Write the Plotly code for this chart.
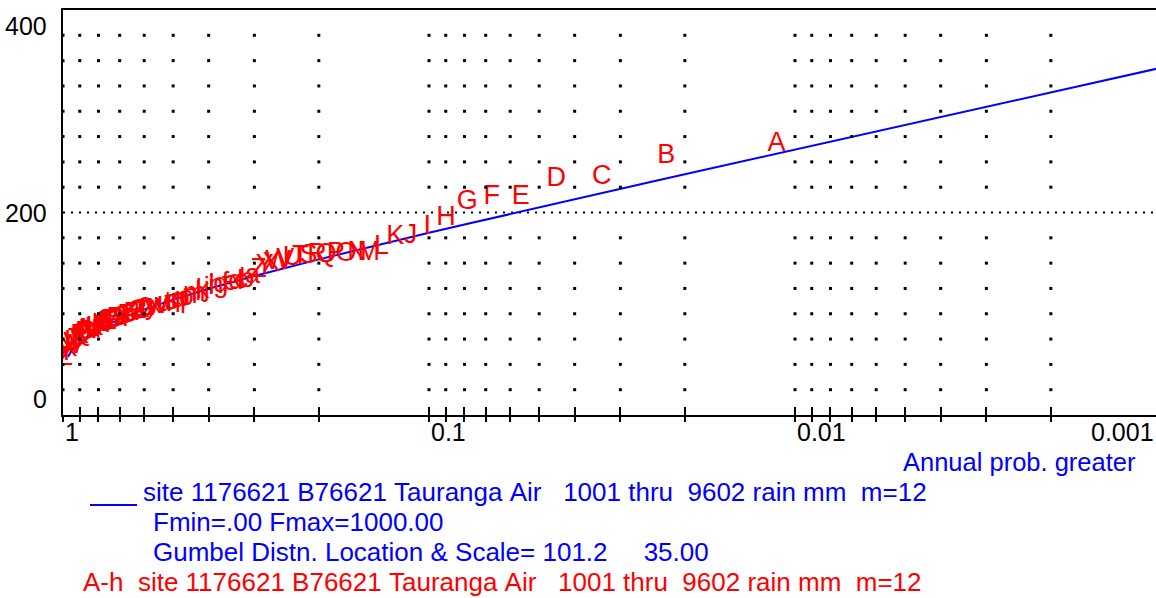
import math
import plotly.graph_objects as go

# ---- Gumbel fit (location 101.2, scale 35.00): exceedance probability vs rainfall
fit_prob = [0.97, 0.95, 0.9, 0.85, 0.8, 0.7, 0.6, 0.5, 0.4, 0.3, 0.2, 0.15, 0.1,
            0.08, 0.06, 0.05, 0.04, 0.03, 0.025, 0.02, 0.015, 0.01, 0.008, 0.006,
            0.005, 0.004, 0.003, 0.002, 0.0015, 0.00103]
fit_rain = [57.3, 62.8, 72.0, 78.8, 84.5, 94.7, 104.3, 114.0, 124.7, 137.3, 153.7,
            164.8, 180.0, 188.1, 198.6, 205.2, 213.1, 223.4, 229.9, 237.8, 247.9,
            262.2, 270.1, 280.1, 286.6, 294.4, 304.5, 318.7, 328.8, 341.9]

# ---- Ranked annual maxima (largest first) and the character that marks each one
obs_labels = list("ABCDEFGHIJKLMNOPQRSTUVWXYZ"
                  "abcdefghijklmnopqrstuvwxyz"
                  "0123456789"
                  "ABCDEFGHIJKLMNOPQRSTUVWXYZ")
obs_rain = [267, 256, 235, 232.5, 215.5, 215, 210.5, 194, 185.5, 176.5,
            176, 166, 160, 159.5, 159, 158.5, 158, 157.5, 157, 156,
            154.5, 153, 151, 149, 147, 143, 137, 133, 132, 131,
            130, 129, 128, 127, 126, 124, 122, 120, 119, 117,
            115, 114, 113, 112, 111, 110, 109, 108, 107.5, 107,
            106, 105, 104, 103, 102, 101, 100.5, 100, 99, 98,
            97, 96, 95, 94.5, 94, 93, 92, 91, 90, 89,
            88, 87, 86, 85, 84, 83, 82, 81, 79.5, 78,
            76, 74, 72, 70, 68, 65, 61, 56]
n_obs = len(obs_rain)
# Weibull plotting position rank/(n+1)
obs_prob = [(k + 1) / (n_obs + 1) for k in range(n_obs)]

# ---- Axis furniture
grid_prob = [1, 0.9, 0.8, 0.7, 0.6, 0.5, 0.4, 0.3, 0.2,
             0.1, 0.09, 0.08, 0.07, 0.06, 0.05, 0.04, 0.03, 0.02,
             0.01, 0.009, 0.008, 0.007, 0.006, 0.005, 0.004, 0.003, 0.002]
grid_rain = [25, 50, 75, 100, 125, 150, 175, 225, 250, 275, 300, 325, 350, 375]
x_tick_labels = ["1", "0.1", "0.01"]
x_tick_pos = [1, 0.1, 0.01]
y_tick_labels = ["400", "200", "0"]

P_MIN = 0.001032
BLUE = "#0000FF"
RED = "#FF0000"
FONT = "Liberation Sans, Arial, sans-serif"

W, H = 1156, 598
ML, MT, MB, MR = 63, 10, 183, 0
PW, PH = W - ML - MR, H - MT - MB


def px_x(px):
    return (px - ML) / PW


def px_y(py):
    return (H - MB - py) / PH


fig = go.Figure()

# dotted grid: dots where the probability lines meet the 25 mm rows
gx, gy = [], []
for p in grid_prob:
    for r in grid_rain:
        gx.append(p)
        gy.append(r)
fig.add_trace(go.Scatter(x=gx, y=gy, mode="markers", xaxis="x2", yaxis="y",
                         marker=dict(symbol="square", size=3, color="black"),
                         hoverinfo="skip", showlegend=False))

# dotted 200 mm reference line
fig.add_trace(go.Scatter(x=[1, P_MIN], y=[200, 200], mode="lines",
                         line=dict(color="black", width=2, dash="2px,6px"),
                         hoverinfo="skip", showlegend=False))

# fitted Gumbel curve
fig.add_trace(go.Scatter(x=fit_prob, y=fit_rain, mode="lines",
                         line=dict(color=BLUE, width=2),
                         showlegend=False))

# observed maxima drawn as characters
fig.add_trace(go.Scatter(x=obs_prob, y=obs_rain, mode="text", text=obs_labels,
                         textposition="middle center",
                         textfont=dict(family=FONT, size=27, color=RED),
                         showlegend=False))

ann = []
# x tick labels, starting at their tick
for lab, p in zip(x_tick_labels, x_tick_pos):
    ann.append(dict(x=math.log10(p), xref="x", y=px_y(432), yref="paper",
                    text=lab, showarrow=False, xanchor="left", yanchor="middle",
                    font=dict(family=FONT, size=25, color="black")))
ann.append(dict(x=1, xref="paper", y=px_y(432), yref="paper", text="0.001",
                showarrow=False, xanchor="right", yanchor="middle",
                font=dict(family=FONT, size=25, color="black")))
# y tick labels, kept inside the plot height
ann.append(dict(x=0, xref="paper", xshift=-14, y=400, yref="y", text=y_tick_labels[0],
                showarrow=False, xanchor="right", yanchor="top",
                font=dict(family=FONT, size=25, color="black")))
ann.append(dict(x=0, xref="paper", xshift=-14, y=200, yref="y", text=y_tick_labels[1],
                showarrow=False, xanchor="right", yanchor="middle",
                font=dict(family=FONT, size=25, color="black")))
ann.append(dict(x=0, xref="paper", xshift=-14, y=0, yref="y", text=y_tick_labels[2],
                showarrow=False, xanchor="right", yanchor="bottom",
                font=dict(family=FONT, size=25, color="black")))

# axis title
ann.append(dict(x=px_x(1138), xref="paper", y=px_y(462), yref="paper",
                text="Annual prob. greater", showarrow=False,
                xanchor="right", yanchor="middle",
                font=dict(family=FONT, size=25.5, color=BLUE)))


def nb(s):
    return s.replace(" ", "\u00a0")


legend_rows = [
    (141, 492, "site 1176621 B76621 Tauranga Air   1001 thru  9602 rain mm  m=12", BLUE),
    (151, 522, "Fmin=.00 Fmax=1000.00", BLUE),
    (151, 552, "Gumbel Distn. Location & Scale= 101.2     35.00", BLUE),
    (81, 582, "A-h  site 1176621 B76621 Tauranga Air   1001 thru  9602 rain mm  m=12", RED),
]
for x0, y0, txt, col in legend_rows:
    ann.append(dict(x=px_x(x0), xref="paper", y=px_y(y0), yref="paper",
                    text=nb(txt), showarrow=False, xanchor="left", yanchor="middle",
                    font=dict(family=FONT, size=26, color=col)))

fig.update_layout(
    width=W, height=H,
    margin=dict(l=ML, r=MR, t=MT, b=MB, pad=0),
    paper_bgcolor="white", plot_bgcolor="white",
    showlegend=False,
    annotations=ann,
    shapes=[dict(type="line", xref="paper", yref="paper",
                 x0=px_x(90), x1=px_x(137), y0=px_y(505), y1=px_y(505),
                 line=dict(color=BLUE, width=2))],
    xaxis=dict(type="log", range=[0, math.log10(P_MIN)],
               showgrid=False, zeroline=False,
               showline=True, linecolor="black", linewidth=2, mirror=True,
               tickmode="array", tickvals=grid_prob, ticks="inside",
               ticklen=8, tickwidth=2, tickcolor="black",
               showticklabels=False),
    xaxis2=dict(type="log", range=[0, math.log10(P_MIN)], overlaying="x",
                anchor="y", side="bottom",
                showgrid=False, zeroline=False, showline=False,
                tickmode="array", tickvals=grid_prob, ticks="outside",
                ticklen=6, tickwidth=2, tickcolor="black",
                showticklabels=False),
    yaxis=dict(range=[0, 400], showgrid=False, zeroline=False,
               showline=True, linecolor="black", linewidth=2,
               ticks="", showticklabels=False),
)

fig.write_html("out.html")
